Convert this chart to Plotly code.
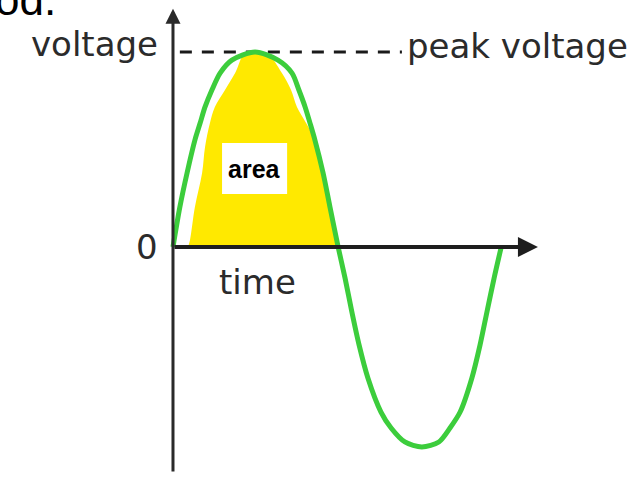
import plotly.graph_objects as go

# one period of the wave: time as a fraction of the period, voltage relative to the peak
t_wave = [0.0, 0.021, 0.043, 0.067, 0.083, 0.098, 0.119, 0.144, 0.180, 0.251,
          0.321, 0.364, 0.385, 0.404, 0.419, 0.434, 0.459, 0.480, 0.505,
          0.526, 0.547, 0.569, 0.596, 0.636, 0.667, 0.709, 0.761, 0.813,
          0.847, 0.878, 0.914, 0.939, 0.960, 0.982, 1.003]
v_wave = [0.0, 0.203, 0.376, 0.543, 0.629, 0.711, 0.797, 0.883, 0.949, 0.99,
          0.949, 0.883, 0.797, 0.711, 0.629, 0.543, 0.376, 0.203, 0.0,
          -0.157, -0.330, -0.497, -0.665, -0.838, -0.919, -0.990, -1.015, -0.990,
          -0.919, -0.838, -0.665, -0.497, -0.330, -0.157, -0.005]

# shaded "area" under the first half cycle
t_area = [0.046, 0.052, 0.067, 0.089, 0.098, 0.113, 0.128, 0.159, 0.190, 0.220,
          0.251, 0.287, 0.333, 0.361, 0.379, 0.407, 0.434, 0.459, 0.480, 0.502, 0.505]
v_area = [0.0, 0.036, 0.203, 0.376, 0.508, 0.629, 0.711, 0.797, 0.883, 0.985,
          0.99, 0.985, 0.883, 0.797, 0.711, 0.629, 0.543, 0.376, 0.203, 0.036, 0.0]

v_peak = 0.99
t_peak_line = [0.021, 0.70]

LABEL_FONT = dict(family="DejaVu Sans", size=34, color="#2b2b2b")

fig = go.Figure()

# ── zone jaune ──
fig.add_trace(go.Scatter(
    x=t_area, y=v_area, mode="lines", line=dict(width=0, shape="spline"),
    fill="toself", fillcolor="#FFE900", hoverinfo="skip",
))

# ── tension crête (pointillés) ──
fig.add_trace(go.Scatter(
    x=t_peak_line, y=[v_peak, v_peak], mode="lines",
    line=dict(color="#1a1a1a", width=3, dash="12px,10px"), hoverinfo="skip",
))

# ── sinusoïde ──
fig.add_trace(go.Scatter(
    x=t_wave, y=v_wave, mode="lines",
    line=dict(color="#3CCD3C", width=5, shape="spline", smoothing=0.8),
))

annotations = [
    # axe des temps
    dict(x=1.116, y=0, ax=0, ay=0, xref="x", yref="y", axref="x", ayref="y",
         text="", showarrow=True, arrowhead=2, arrowsize=1, arrowwidth=4,
         arrowcolor="#1e1e1e", standoff=0, startstandoff=0),
    # axe des tensions
    dict(x=0, y=1.21, ax=0, ay=-1.147, xref="x", yref="y", axref="x", ayref="y",
         text="", showarrow=True, arrowhead=2, arrowsize=1, arrowwidth=3,
         arrowcolor="#2a2a2a", standoff=0, startstandoff=0),
    dict(x=-0.040, y=1.03, text="voltage", xanchor="right", yanchor="middle",
         showarrow=False, font=LABEL_FONT),
    dict(x=0.709, y=1.02, text="peak voltage", xanchor="left", yanchor="middle",
         showarrow=False, font=LABEL_FONT),
    dict(x=-0.080, y=0.0, text="0", xanchor="center", yanchor="middle",
         showarrow=False, font=LABEL_FONT),
    dict(x=0.257, y=-0.18, text="time", xanchor="center", yanchor="middle",
         showarrow=False, font=LABEL_FONT),
    dict(x=0.2495, y=0.3985, text="<b>area</b>", xanchor="center", yanchor="middle",
         showarrow=False, font=dict(family="Liberation Sans", size=25, color="black")),
    dict(x=-0.352, y=1.122, text="od.", xanchor="right", yanchor="bottom",
         showarrow=False, font=dict(family="Liberation Sans", size=44, color="black")),
]

fig.update_layout(
    width=639, height=479,
    margin=dict(l=0, r=0, t=0, b=0),
    paper_bgcolor="white", plot_bgcolor="white",
    showlegend=False,
    xaxis=dict(range=[-0.529, 1.425], visible=False, fixedrange=True),
    yaxis=dict(range=[-1.178, 1.254], visible=False, fixedrange=True),
    shapes=[dict(type="rect", xref="x", yref="y", x0=0.150, x1=0.349, y0=0.269, y1=0.528,
                 fillcolor="white", line=dict(width=0), layer="above")],
    annotations=annotations,
)

fig.write_html("out.html", config={"displayModeBar": False},
               post_script="document.body.style.margin='0';")
